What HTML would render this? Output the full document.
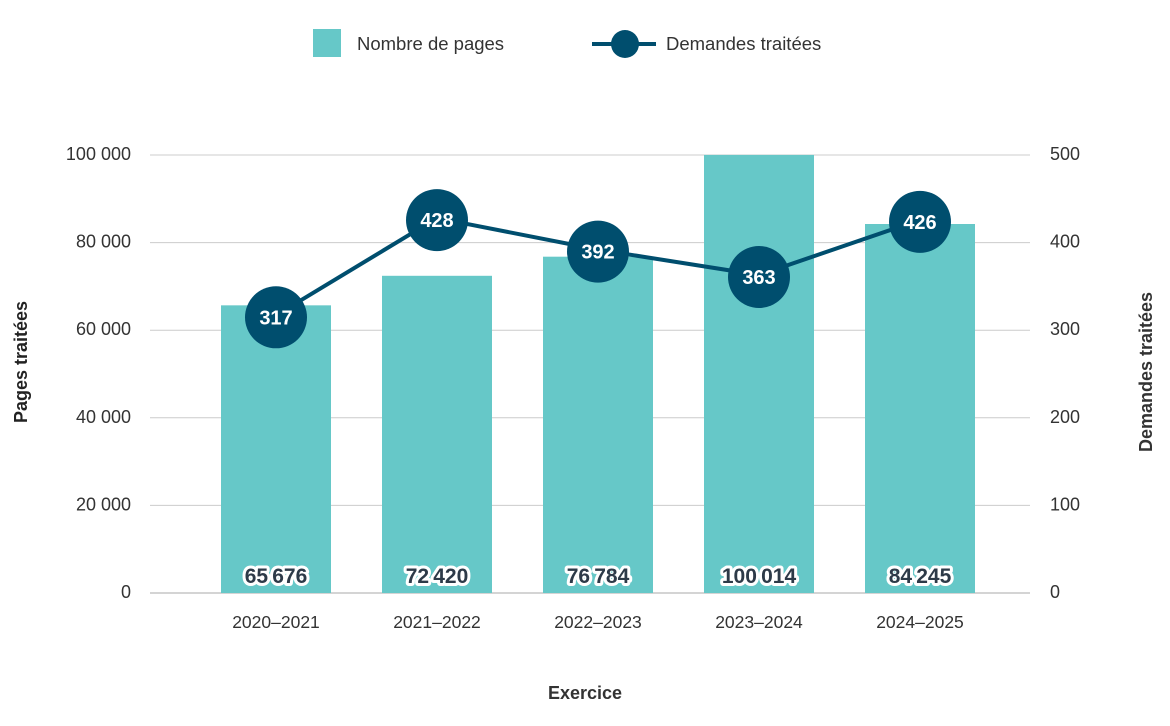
<!DOCTYPE html>
<html><head><meta charset="utf-8"><style>
body{margin:0;background:#fff;}
svg{display:block;font-family:"Liberation Sans",sans-serif;}
</style></head><body>
<svg id="chart" width="1170" height="726" viewBox="0 0 1170 726">
<g id="legend">
 <rect x="313" y="29" width="28" height="28" fill="#66c8c8"/>
 <text x="357" y="50" font-size="18.5" fill="#333">Nombre de pages</text>
 <line x1="592" y1="44" x2="656" y2="44" stroke="#004e6e" stroke-width="4"/>
 <circle cx="625" cy="44" r="14" fill="#004e6e"/>
 <text x="666" y="50" font-size="18.5" fill="#333">Demandes traitées</text>
</g>
<g id="grid"></g><g id="bars"></g><g id="line"></g><g id="labels"></g>
<text x="0" y="0" transform="translate(27,362) rotate(-90)" text-anchor="middle" font-size="18" font-weight="bold" fill="#222">Pages traitées</text>
<text x="0" y="0" transform="translate(1152,372) rotate(-90)" text-anchor="middle" font-size="18" font-weight="bold" fill="#333">Demandes traitées</text>
<text x="585" y="699" text-anchor="middle" font-size="18" font-weight="bold" fill="#333">Exercice</text>
</svg>
<script>
const categories=["2020–2021","2021–2022","2022–2023","2023–2024","2024–2025"];
const pages=[65676,72420,76784,100014,84245];
const requests=[317,428,392,363,426];
const leftTicks=[0,20000,40000,60000,80000,100000];
const rightTicks=[0,100,200,300,400,500];
const NS="http://www.w3.org/2000/svg";
const y0=593,y1=155;
const yL=v=>y0-(v/100000)*(y0-y1);
const yR=v=>y0-(v/500)*(y0-y1);
const xC=i=>276+i*161;
const fmt=v=>String(v).replace(/\B(?=(\d{3})+(?!\d))/g,"\u2009");
function mk(tag,attrs,parent,txt){const e=document.createElementNS(NS,tag);for(const k in attrs)e.setAttribute(k,attrs[k]);if(txt!==undefined)e.textContent=txt;parent.appendChild(e);return e;}
const grid=document.getElementById('grid'),bars=document.getElementById('bars'),line=document.getElementById('line'),labels=document.getElementById('labels');
leftTicks.forEach((t,i)=>{
 const y=yL(t);
 const g=mk('line',{x1:150,x2:1030,y1:y,y2:y,stroke:t===0?'#aaa':'#ccc','stroke-width':1},grid);
 
 
 const l=mk('text',{x:131,y:y+5,'text-anchor':'end','font-size':18,fill:'#333'},grid,t===0?'0':fmt(t).replace('\u2009',' '));
 
 
});
rightTicks.forEach(t=>{
 const r=mk('text',{x:1050,y:yR(t)+5,'font-size':18,fill:'#333'},grid,String(t));
 
 
});
categories.forEach((c,i)=>{
 const b=mk('rect',{x:xC(i)-55,y:yL(pages[i]),width:110,height:y0-yL(pages[i]),fill:'#66c8c8'},bars);
 
 
 const xl=mk('text',{x:xC(i),y:628,'text-anchor':'middle','font-size':17.5,fill:'#333'},labels,c);
 
 
 const v=mk('text',{x:xC(i),y:583,'text-anchor':'middle','font-size':21,'font-weight':'bold',fill:'#2d3a48',stroke:'#fff','stroke-width':6,'paint-order':'stroke','stroke-linejoin':'round'},labels,fmt(pages[i]));
 
 
});
const pts=requests.map((r,i)=>xC(i)+','+yR(r)).join(' ');
const pl=mk('polyline',{points:pts,fill:'none',stroke:'#004e6e','stroke-width':4},line);


requests.forEach((r,i)=>{
 const c=mk('circle',{cx:xC(i),cy:yR(r)+2,r:31,fill:'#004e6e'},line);
 
 
 const t=mk('text',{x:xC(i),y:yR(r)+9,'text-anchor':'middle','font-size':20,'font-weight':'bold',fill:'#fff'},line,String(r));
 
 
});
</script>
</body></html>
